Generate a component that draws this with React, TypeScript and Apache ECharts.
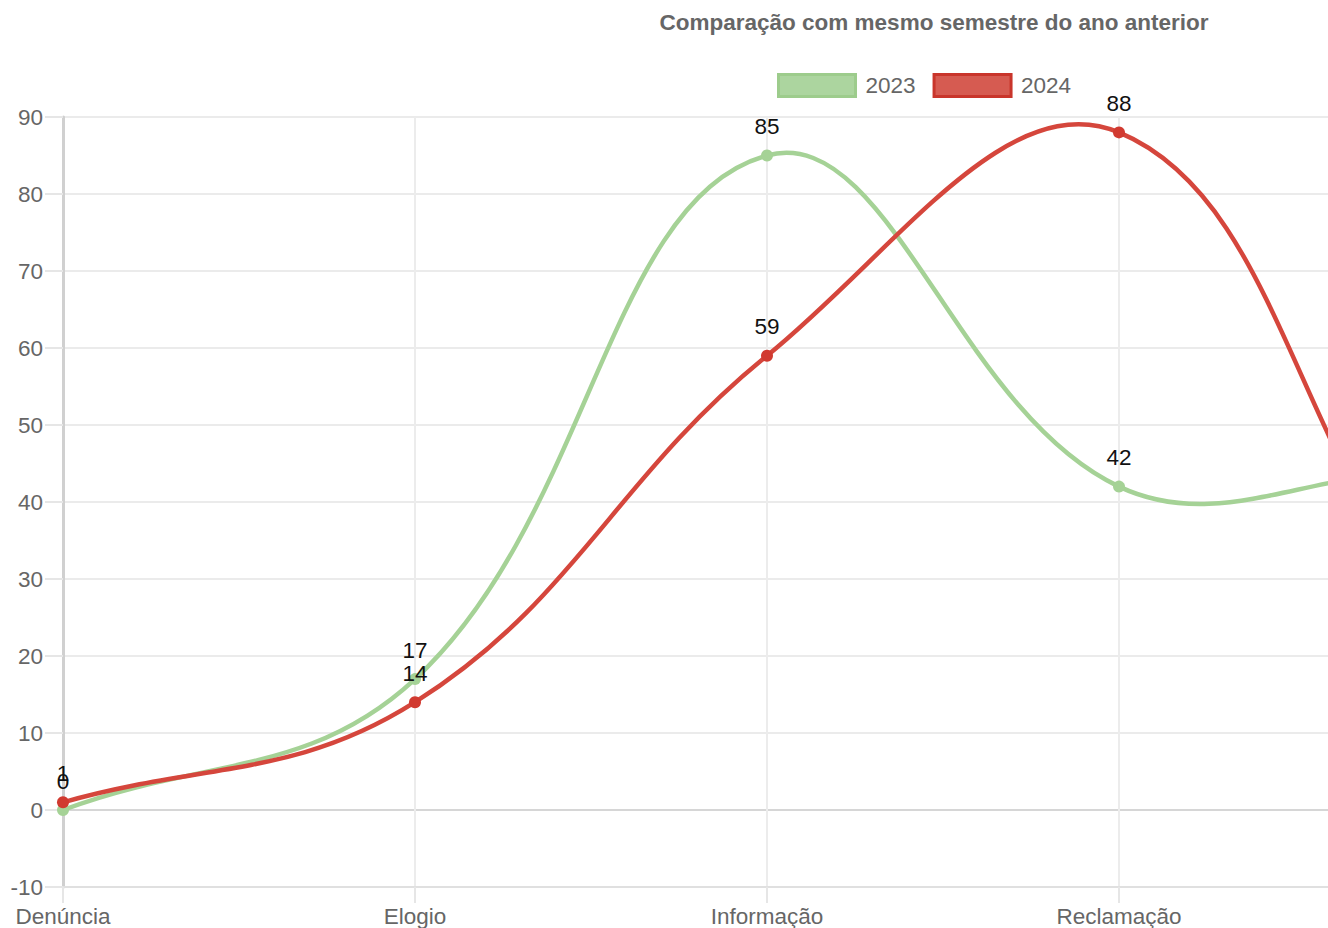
import React, { useEffect, useRef } from "react";
import * as echarts from "echarts";

const categories = ["Denúncia", "Elogio", "Informação", "Reclamação", "Solicitação", "Sugestão"];
const values2023 = [0, 17, 85, 42, 42, 10];
const values2024 = [1, 14, 59, 88, 21, 3];
const seriesNames = ["2023", "2024"];
const yMin = -10;
const yMax = 90;
const yInterval = 10;
const chartTitle = "Comparação com mesmo semestre do ano anterior";

const FONT = "'Liberation Sans', Arial, Helvetica, sans-serif";
const TENSION = 0.4;

function splineControls(pts: number[][]) {
  return pts.map((cur, i) => {
    const prev = pts[i - 1] || cur;
    const next = pts[i + 1] || cur;
    const d01 = Math.hypot(cur[0] - prev[0], cur[1] - prev[1]);
    const d12 = Math.hypot(next[0] - cur[0], next[1] - cur[1]);
    let s01 = d01 / (d01 + d12);
    let s12 = d12 / (d01 + d12);
    if (isNaN(s01)) s01 = 0;
    if (isNaN(s12)) s12 = 0;
    const fa = TENSION * s01;
    const fb = TENSION * s12;
    return {
      prev: [cur[0] - fa * (next[0] - prev[0]), cur[1] - fa * (next[1] - prev[1])],
      next: [cur[0] + fb * (next[0] - prev[0]), cur[1] + fb * (next[1] - prev[1])],
    };
  });
}

function makeSeries(name: string, values: number[], color: string, pointColor: string, z: number) {
  return {
    type: "custom",
    name,
    z,
    clip: false,
    itemStyle: { color },
    encode: { x: 0, y: 1 },
    data: values.map((v, i) => [i, v]),
    renderItem: (params: any, api: any) => {
      const i = params.dataIndex;
      const pts = values.map((v, k) => api.coord([k, v]));
      const cps = splineControls(pts);
      const children: any[] = [];
      if (i < pts.length - 1) {
        children.push({
          type: "bezierCurve",
          silent: true,
          z2: 0,
          shape: {
            x1: pts[i][0],
            y1: pts[i][1],
            cpx1: cps[i].next[0],
            cpy1: cps[i].next[1],
            cpx2: cps[i + 1].prev[0],
            cpy2: cps[i + 1].prev[1],
            x2: pts[i + 1][0],
            y2: pts[i + 1][1],
          },
          style: { stroke: color, lineWidth: 4.5, fill: null, lineCap: "round" },
        });
      }
      children.push({
        type: "circle",
        z2: 1,
        shape: { cx: pts[i][0], cy: pts[i][1], r: 6 },
        style: { fill: pointColor },
      });
      children.push({
        type: "text",
        z2: 2,
        x: pts[i][0],
        y: pts[i][1] - 29,
        style: {
          text: String(values[i]),
          fill: "#111",
          fontSize: 22.5,
          fontFamily: FONT,
          align: "center",
          verticalAlign: "middle",
        },
      });
      return { type: "group", children };
    },
  };
}

const splitColors = Array.from({ length: (yMax - yMin) / yInterval + 1 }, (_, k) =>
  yMin + k * yInterval === 0 ? "#d6d6d6" : "#ebebeb"
);

export default function App() {
  const ref = useRef<HTMLDivElement>(null);
  useEffect(() => {
    if (!ref.current) return;
    const chart = echarts.init(ref.current, null, { renderer: "svg" });
    chart.setOption({
      animation: false,
      title: {
        text: chartTitle,
        left: "center",
        top: 6,
        textStyle: { color: "#666", fontSize: 22.5, fontWeight: "bold", fontFamily: FONT },
      },
      legend: {
        left: 772,
        top: 68,
        itemWidth: 77,
        itemHeight: 22,
        itemGap: 17,
        textStyle: { color: "#666", fontSize: 22.5, fontFamily: FONT, padding: [0, 0, 0, 5] },
        data: [
          { name: seriesNames[0], icon: "rect", itemStyle: { color: "#acd59f", borderColor: "#9dcc8c", borderWidth: 3 } },
          { name: seriesNames[1], icon: "rect", itemStyle: { color: "#d65b51", borderColor: "#c9352b", borderWidth: 3 } },
        ],
      },
      grid: { left: 63, right: 45, top: 117, bottom: 53, containLabel: false, outerBoundsMode: "none" },
      xAxis: {
        type: "category",
        data: categories,
        boundaryGap: false,
        axisLine: { onZero: false, lineStyle: { color: "#e0e0e0", width: 2 } },
        axisTick: { show: true, length: 16, lineStyle: { color: "#e6e6e6", width: 2 } },
        axisLabel: { color: "#666", fontSize: 22.5, fontFamily: FONT, margin: 18 },
        splitLine: { show: true, lineStyle: { color: "#ececec", width: 2 } },
      },
      yAxis: {
        type: "value",
        min: yMin,
        max: yMax,
        interval: yInterval,
        axisLine: { show: true, lineStyle: { color: "#d0d0d0", width: 3 } },
        axisTick: { show: true, length: 18, lineStyle: { color: "#e6e6e6", width: 2 } },
        axisLabel: { color: "#666", fontSize: 22.5, fontFamily: FONT, margin: 20 },
        splitLine: { show: true, lineStyle: { color: splitColors, width: 2 } },
      },
      series: [
        makeSeries(seriesNames[0], values2023, "#a5d296", "#a5d296", 2),
        makeSeries(seriesNames[1], values2024, "#d5463c", "#d13a30", 3),
      ],
    });
    return () => chart.dispose();
  }, []);
  return (
    <div style={{ position: "fixed", left: 0, top: 0, width: 1328, height: 928, overflow: "hidden", background: "#fff" }}>
      <div ref={ref} style={{ position: "absolute", left: 0, top: 0, width: 1868, height: 940 }} />
    </div>
  );
}
